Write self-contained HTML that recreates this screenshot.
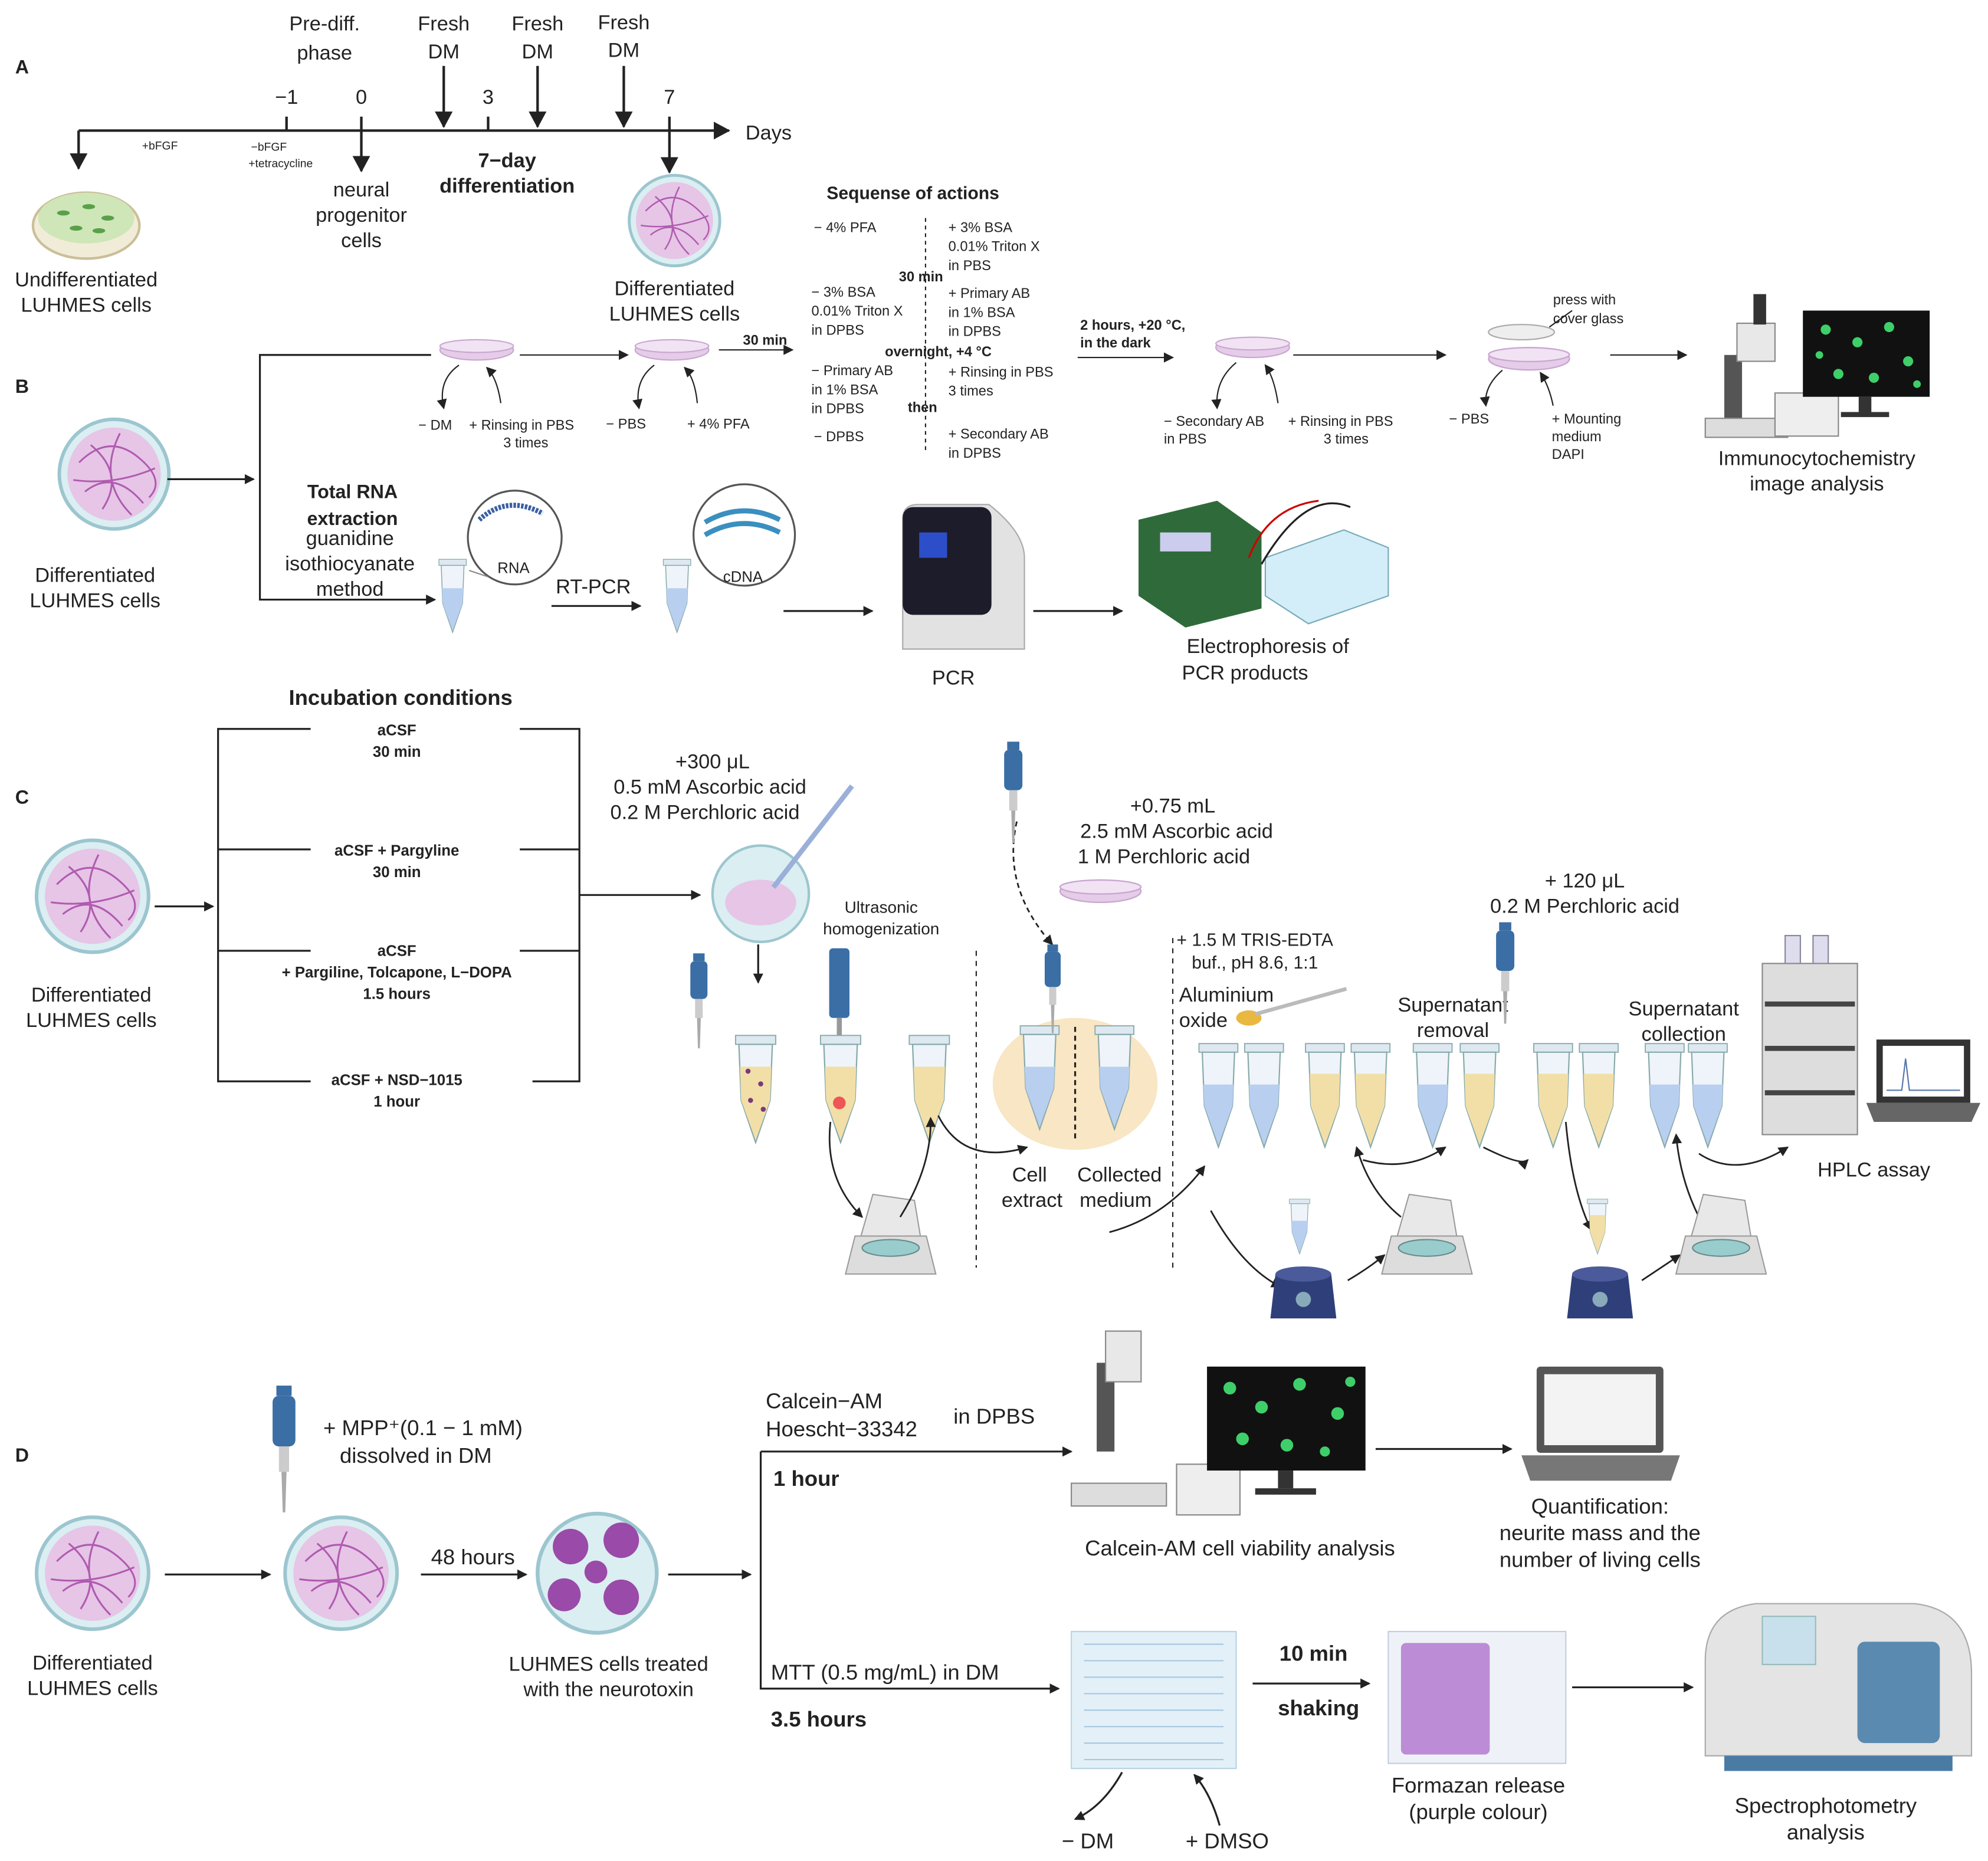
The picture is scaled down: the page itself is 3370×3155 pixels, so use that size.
<!DOCTYPE html>
<html><head><meta charset="utf-8"><style>
html,body{margin:0;padding:0;background:#fff}
svg{display:block}
text{font-family:"Liberation Sans",sans-serif;fill:#222}
.b{font-weight:bold}
</style></head><body>
<svg width="3370" height="3155" viewBox="0 0 1568 1468" preserveAspectRatio="none" xmlns="http://www.w3.org/2000/svg">
<defs>
<marker id="ar" markerWidth="8" markerHeight="8" refX="7" refY="4" orient="auto" markerUnits="userSpaceOnUse"><path d="M0,0 L8,4 L0,8z" fill="#222"/></marker>
<marker id="ab" markerWidth="14" markerHeight="14" refX="12" refY="7" orient="auto" markerUnits="userSpaceOnUse"><path d="M0,0 L13,7 L0,14z" fill="#222"/></marker>
<symbol id="dish" viewBox="-50 -50 100 100">
<circle r="47" fill="#dbeef2" stroke="#9cc6cf" stroke-width="3"/>
<circle r="40" fill="#e6c5e6"/>
<path d="M-30,-10 Q-5,-35 20,-15 T30,20 M-25,15 Q0,-5 25,25 M-20,-25 Q10,0 -10,30 M5,-35 Q-15,5 15,35 M-35,5 Q0,10 35,-5" stroke="#b05ab0" stroke-width="1.5" fill="none"/>
</symbol>
<symbol id="tube" viewBox="0 0 40 100">
<rect x="2" y="2" width="36" height="8" fill="#dde8f0" stroke="#8aa" stroke-width="1"/>
<path d="M5,10 L35,10 L33,60 L20,98 L7,60z" fill="#eef4fa" stroke="#8aa" stroke-width="1.2"/>
<path d="M6,40 L34,40 L33,60 L20,96 L7,60z" fill="#b9cff0"/>
</symbol>
<symbol id="ytube" viewBox="0 0 40 100">
<rect x="2" y="2" width="36" height="8" fill="#dde8f0" stroke="#8aa" stroke-width="1"/>
<path d="M5,10 L35,10 L33,60 L20,98 L7,60z" fill="#eef4fa" stroke="#8aa" stroke-width="1.2"/>
<path d="M6,30 L34,30 L33,60 L20,96 L7,60z" fill="#f2dfa8"/>
</symbol>
<symbol id="cent" viewBox="0 0 80 80">
<path d="M10,40 L70,40 L78,72 L2,72z" fill="#ddd" stroke="#999"/>
<path d="M15,40 L25,5 L60,10 L65,40z" fill="#e8e8e8" stroke="#999"/>
<ellipse cx="40" cy="50" rx="24" ry="7" fill="#9cc" stroke="#688"/>
</symbol>
<symbol id="vort" viewBox="0 0 60 60">
<path d="M8,20 L52,20 L56,55 L4,55z" fill="#2f3f7a"/>
<ellipse cx="30" cy="20" rx="22" ry="6" fill="#4a5a9a"/>
<circle cx="30" cy="40" r="6" fill="#8ab"/>
</symbol>
<symbol id="pip" viewBox="0 0 30 100">
<rect x="8" y="0" width="12" height="8" fill="#3a6ea5"/>
<rect x="5" y="8" width="18" height="40" rx="5" fill="#3a6ea5"/>
<rect x="10" y="48" width="8" height="20" fill="#ccc"/>
<path d="M12,68 L16,68 L15,100 L13,100z" fill="#aaa"/>
</symbol>
<symbol id="sdish" viewBox="0 0 60 20">
<ellipse cx="30" cy="10" rx="29" ry="8" fill="#e5cce8" stroke="#c9a7d0"/>
<ellipse cx="30" cy="7" rx="29" ry="5" fill="#f1e3f3" stroke="#c9a7d0"/>
</symbol>
</defs>

<!-- ===== A ===== -->
<text x="12" y="58" font-size="15" class="b">A</text>
<text x="256" y="24" font-size="16" text-anchor="middle">Pre-diff.</text>
<text x="256" y="47" font-size="16" text-anchor="middle">phase</text>
<g font-size="16" text-anchor="middle">
<text x="350" y="24">Fresh</text><text x="350" y="46">DM</text>
<text x="424" y="24">Fresh</text><text x="424" y="46">DM</text>
<text x="492" y="23">Fresh</text><text x="492" y="45">DM</text>
<text x="226" y="82">−1</text><text x="285" y="82">0</text><text x="385" y="82">3</text><text x="528" y="82">7</text>
</g>
<line x1="62" y1="103" x2="575" y2="103" stroke="#222" stroke-width="2" marker-end="url(#ab)"/>
<text x="588" y="110" font-size="16">Days</text>
<g stroke="#222" stroke-width="2">
<line x1="226" y1="92" x2="226" y2="103"/><line x1="385" y1="92" x2="385" y2="103"/><line x1="528" y1="92" x2="528" y2="103"/>
<line x1="350" y1="52" x2="350" y2="100" marker-end="url(#ab)"/>
<line x1="424" y1="52" x2="424" y2="100" marker-end="url(#ab)"/>
<line x1="492" y1="52" x2="492" y2="100" marker-end="url(#ab)"/>
<line x1="62" y1="103" x2="62" y2="133" marker-end="url(#ab)"/>
<line x1="285" y1="92" x2="285" y2="135" marker-end="url(#ab)"/>
<line x1="528" y1="103" x2="528" y2="136" marker-end="url(#ab)"/>
</g>
<text x="112" y="118" font-size="9">+bFGF</text>
<text x="198" y="119" font-size="9">−bFGF</text>
<text x="196" y="132" font-size="9">+tetracycline</text>
<text x="400" y="132" font-size="16" class="b" text-anchor="middle">7−day</text>
<text x="400" y="152" font-size="16" class="b" text-anchor="middle">differentiation</text>
<g font-size="16" text-anchor="middle">
<text x="285" y="155">neural</text><text x="285" y="175">progenitor</text><text x="285" y="195">cells</text>
</g>
<ellipse cx="68" cy="178" rx="42" ry="26" fill="#f1ecd8" stroke="#cbbf98" stroke-width="2"/>
<ellipse cx="68" cy="172" rx="38" ry="20" fill="#cfe6b8"/>
<g fill="#5aa04a"><ellipse cx="50" cy="168" rx="5" ry="2"/><ellipse cx="70" cy="163" rx="5" ry="2"/><ellipse cx="85" cy="172" rx="5" ry="2"/><ellipse cx="60" cy="180" rx="5" ry="2"/><ellipse cx="78" cy="182" rx="5" ry="2"/></g>
<text x="68" y="226" font-size="16" text-anchor="middle">Undifferentiated</text>
<text x="68" y="246" font-size="16" text-anchor="middle">LUHMES cells</text>
<use href="#dish" x="494" y="136" width="76" height="76"/>
<text x="532" y="233" font-size="16" text-anchor="middle">Differentiated</text>
<text x="532" y="253" font-size="16" text-anchor="middle">LUHMES cells</text>

<!-- ===== B ===== -->
<text x="12" y="310" font-size="15" class="b">B</text>
<use href="#dish" x="44" y="328" width="92" height="92"/>
<text x="75" y="459" font-size="16" text-anchor="middle">Differentiated</text>
<text x="75" y="479" font-size="16" text-anchor="middle">LUHMES cells</text>
<line x1="132" y1="378" x2="200" y2="378" stroke="#222" stroke-width="1.5" marker-end="url(#ar)"/>
<polyline points="340,280 205,280 205,473 343,473" fill="none" stroke="#222" stroke-width="1.5" marker-end="url(#ar)"/>
<use href="#sdish" x="346" y="266" width="60" height="20"/>
<use href="#sdish" x="500" y="266" width="60" height="20"/>
<use href="#sdish" x="958" y="264" width="60" height="20"/>
<use href="#sdish" x="1170" y="272" width="72" height="22"/>
<ellipse cx="1200" cy="262" rx="26" ry="6" fill="#eee" stroke="#aaa"/>
<g stroke="#222" stroke-width="1" fill="none">
<line x1="410" y1="280" x2="495" y2="280" marker-end="url(#ar)"/>
<line x1="567" y1="276" x2="625" y2="276" marker-end="url(#ar)"/>
<line x1="850" y1="282" x2="925" y2="282" marker-end="url(#ar)"/>
<line x1="1020" y1="280" x2="1140" y2="280" marker-end="url(#ar)"/>
<line x1="1270" y1="280" x2="1330" y2="280" marker-end="url(#ar)"/>
<path d="M362,288 Q345,300 350,322" marker-end="url(#ar)"/><path d="M395,318 Q392,298 384,290" marker-end="url(#ar)"/>
<path d="M516,288 Q500,300 504,322" marker-end="url(#ar)"/><path d="M550,318 Q548,298 540,290" marker-end="url(#ar)"/>
<path d="M975,286 Q958,300 960,322" marker-end="url(#ar)"/><path d="M1008,318 Q1005,298 998,288" marker-end="url(#ar)"/>
<path d="M1185,292 Q1170,305 1172,320" marker-end="url(#ar)"/><path d="M1225,320 Q1222,305 1215,294" marker-end="url(#ar)"/>
<path d="M1222,258 L1240,245"/>
</g>
<g font-size="11">
<text x="330" y="339">− DM</text><text x="370" y="339">+ Rinsing in PBS</text><text x="397" y="353">3 times</text>
<text x="478" y="338">− PBS</text><text x="542" y="338">+ 4% PFA</text>
<text x="918" y="336">− Secondary AB</text><text x="918" y="350">in PBS</text><text x="1016" y="336">+ Rinsing in PBS</text><text x="1044" y="350">3 times</text>
<text x="1143" y="334">− PBS</text><text x="1224" y="334">+ Mounting</text><text x="1224" y="348">medium</text><text x="1224" y="362">DAPI</text>
<text x="1225" y="240">press with</text><text x="1225" y="255">cover glass</text>
</g>
<text x="586" y="272" font-size="11" class="b">30 min</text>
<text x="852" y="260" font-size="11" class="b">2 hours, +20 °C,</text>
<text x="852" y="274" font-size="11" class="b">in the dark</text>
<text x="652" y="157" font-size="14" class="b">Sequense of actions</text>
<line x1="730" y1="172" x2="730" y2="355" stroke="#222" stroke-dasharray="3,3"/>
<g font-size="11">
<text x="642" y="183">− 4% PFA</text>
<text x="748" y="183">+ 3% BSA</text><text x="748" y="198">0.01% Triton X</text><text x="748" y="213">in PBS</text>
<text x="640" y="234">− 3% BSA</text><text x="640" y="249">0.01% Triton X</text><text x="640" y="264">in DPBS</text>
<text x="748" y="235">+ Primary AB</text><text x="748" y="250">in 1% BSA</text><text x="748" y="265">in DPBS</text>
<text x="640" y="296">− Primary AB</text><text x="640" y="311">in 1% BSA</text><text x="640" y="326">in DPBS</text>
<text x="748" y="297">+ Rinsing in PBS</text><text x="748" y="312">3 times</text>
<text x="642" y="348">− DPBS</text>
<text x="748" y="346">+ Secondary AB</text><text x="748" y="361">in DPBS</text>
</g>
<text x="709" y="222" font-size="11" class="b">30 min</text>
<text x="698" y="281" font-size="11" class="b">overnight, +4 °C</text>
<text x="716" y="325" font-size="11" class="b">then</text>
<!-- microscope ICC -->
<g>
<rect x="1360" y="280" width="14" height="60" fill="#555"/>
<path d="M1345,330 L1410,330 L1410,345 L1345,345z" fill="#ddd" stroke="#888"/>
<rect x="1370" y="255" width="30" height="30" fill="#e8e8e8" stroke="#888"/>
<rect x="1383" y="232" width="10" height="24" fill="#333"/>
<rect x="1400" y="310" width="50" height="34" fill="#eee" stroke="#888"/>
<rect x="1422" y="245" width="100" height="68" fill="#111"/>
<g fill="#3ecf6a"><circle cx="1440" cy="260" r="4"/><circle cx="1465" cy="270" r="4"/><circle cx="1490" cy="258" r="4"/><circle cx="1505" cy="285" r="4"/><circle cx="1450" cy="295" r="4"/><circle cx="1478" cy="298" r="4"/><circle cx="1435" cy="280" r="3"/><circle cx="1512" cy="303" r="3"/></g>
<rect x="1466" y="313" width="10" height="12" fill="#333"/><rect x="1452" y="325" width="38" height="4" fill="#333"/>
</g>
<text x="1433" y="367" font-size="16" text-anchor="middle">Immunocytochemistry</text>
<text x="1433" y="387" font-size="16" text-anchor="middle">image analysis</text>
<!-- RNA -->
<text x="278" y="393" font-size="15" class="b" text-anchor="middle">Total RNA</text>
<text x="278" y="414" font-size="15" class="b" text-anchor="middle">extraction</text>
<g font-size="16" text-anchor="middle"><text x="276" y="430">guanidine</text><text x="276" y="450">isothiocyanate</text><text x="276" y="470">method</text></g>
<use href="#tube" x="345" y="440" width="24" height="60"/>
<circle cx="406" cy="424" r="37" fill="#fff" stroke="#555" stroke-width="1.5"/>
<path d="M378,410 Q400,390 428,405" stroke="#3a5fa0" stroke-width="4" fill="none" stroke-dasharray="2,1"/>
<text x="405" y="452" font-size="12" text-anchor="middle">RNA</text>
<line x1="370" y1="450" x2="385" y2="455" stroke="#888"/>
<text x="468" y="468" font-size="16" text-anchor="middle">RT-PCR</text>
<line x1="435" y1="478" x2="505" y2="478" stroke="#222" stroke-width="1.5" marker-end="url(#ar)"/>
<use href="#tube" x="522" y="440" width="24" height="60"/>
<circle cx="587" cy="422" r="40" fill="#fff" stroke="#555" stroke-width="1.5"/>
<path d="M556,412 Q585,395 615,410 M556,422 Q585,405 615,420" stroke="#3a8fc0" stroke-width="4" fill="none"/>
<text x="586" y="459" font-size="12" text-anchor="middle">cDNA</text>
<line x1="618" y1="482" x2="688" y2="482" stroke="#222" stroke-width="1.5" marker-end="url(#ar)"/>
<path d="M712,410 Q712,398 724,398 L780,398 Q808,420 808,440 L808,512 L712,512z" fill="#e2e2e2" stroke="#aaa"/>
<rect x="712" y="400" width="70" height="85" rx="8" fill="#1c1c2a"/>
<rect x="725" y="420" width="22" height="20" fill="#2c4ec8"/>
<text x="752" y="540" font-size="16" text-anchor="middle">PCR</text>
<line x1="815" y1="482" x2="885" y2="482" stroke="#222" stroke-width="1.5" marker-end="url(#ar)"/>
<path d="M898,410 L960,395 L995,420 L995,480 L935,495 L898,470z" fill="#2f6b3a"/>
<rect x="915" y="420" width="40" height="15" fill="#cce"/>
<path d="M998,440 L1060,418 L1095,432 L1095,470 L1032,492 L998,470z" fill="#d3eef8" stroke="#7ab"/>
<path d="M985,440 Q1000,400 1040,395" stroke="#c00" fill="none" stroke-width="1.5"/>
<path d="M995,445 Q1030,385 1065,400" stroke="#222" fill="none" stroke-width="1.5"/>
<text x="1000" y="515" font-size="16" text-anchor="middle">Electrophoresis of</text>
<text x="982" y="536" font-size="16" text-anchor="middle">PCR products</text>

<!-- ===== C ===== -->
<text x="12" y="634" font-size="15" class="b">C</text>
<text x="316" y="556" font-size="17" class="b" text-anchor="middle">Incubation conditions</text>
<use href="#dish" x="26" y="660" width="94" height="94"/>
<text x="72" y="790" font-size="16" text-anchor="middle">Differentiated</text>
<text x="72" y="810" font-size="16" text-anchor="middle">LUHMES cells</text>
<line x1="122" y1="715" x2="168" y2="715" stroke="#222" stroke-width="1.5" marker-end="url(#ar)"/>
<g stroke="#222" stroke-width="1.5" fill="none">
<polyline points="245,575 172,575 172,853 245,853"/>
<line x1="172" y1="670" x2="245" y2="670"/><line x1="172" y1="750" x2="245" y2="750"/>
<polyline points="410,575 457,575 457,853 420,853"/>
<line x1="410" y1="670" x2="457" y2="670"/><line x1="410" y1="750" x2="457" y2="750"/>
<line x1="457" y1="706" x2="552" y2="706" marker-end="url(#ar)"/>
</g>
<g font-size="12" class="b" text-anchor="middle">
<text x="313" y="580">aCSF</text><text x="313" y="597">30 min</text>
<text x="313" y="675">aCSF + Pargyline</text><text x="313" y="692">30 min</text>
<text x="313" y="754">aCSF</text><text x="313" y="771">+ Pargiline, Tolcapone, L−DOPA</text><text x="313" y="788">1.5 hours</text>
<text x="313" y="856">aCSF + NSD−1015</text><text x="313" y="873">1 hour</text>
</g>
<g font-size="16" text-anchor="middle"><text x="562" y="606">+300 μL</text><text x="560" y="626">0.5 mM Ascorbic acid</text><text x="556" y="646">0.2 M Perchloric acid</text></g>
<circle cx="600" cy="705" r="38" fill="#dbeef2" stroke="#9cc6cf" stroke-width="2"/>
<ellipse cx="600" cy="712" rx="28" ry="18" fill="#e6c5e6"/>
<line x1="610" y1="700" x2="672" y2="620" stroke="#9bb0d8" stroke-width="4"/>
<line x1="598" y1="745" x2="598" y2="775" stroke="#222" stroke-width="1.5" marker-end="url(#ar)"/>
<use href="#pip" x="540" y="752" width="24" height="75"/>
<use href="#ytube" x="578" y="815" width="36" height="88"/>
<g fill="#7a3a7a"><circle cx="590" cy="845" r="2"/><circle cx="600" cy="855" r="2"/><circle cx="592" cy="868" r="2"/><circle cx="602" cy="875" r="2"/></g>
<text x="695" y="720" font-size="13" text-anchor="middle">Ultrasonic</text>
<text x="695" y="737" font-size="13" text-anchor="middle">homogenization</text>
<rect x="654" y="748" width="16" height="55" rx="3" fill="#3a6ea5"/><rect x="660" y="803" width="4" height="50" fill="#999"/>
<use href="#ytube" x="645" y="815" width="36" height="88"/>
<circle cx="662" cy="870" r="5" fill="#e55"/>
<use href="#ytube" x="715" y="815" width="36" height="88"/>
<use href="#cent" x="665" y="935" width="75" height="80"/>
<g stroke="#222" stroke-width="1.3" fill="none">
<path d="M655,885 Q650,930 680,960" marker-end="url(#ar)"/>
<path d="M710,960 Q735,920 734,882" marker-end="url(#ar)"/>
<path d="M740,880 Q760,920 810,905" marker-end="url(#ar)"/>
<path d="M875,972 Q920,960 950,920" marker-end="url(#ar)"/>
<path d="M955,955 Q980,1000 1010,1015" marker-end="url(#ar)"/>
<path d="M1063,1010 Q1080,1000 1092,990" marker-end="url(#ar)"/>
<path d="M1105,960 Q1080,940 1070,905" marker-end="url(#ar)"/>
<path d="M1075,915 Q1110,925 1140,905" marker-end="url(#ar)"/>
<path d="M1170,905 Q1200,920 1205,915" marker-end="url(#ar)"/>
<path d="M1235,885 Q1240,940 1255,970" marker-end="url(#ar)"/>
<path d="M1295,1010 Q1310,1000 1325,990" marker-end="url(#ar)"/>
<path d="M1340,960 Q1325,930 1322,895" marker-end="url(#ar)"/>
<path d="M1340,910 Q1370,930 1410,905" marker-end="url(#ar)"/>
<path d="M802,648 Q790,700 830,745" stroke-dasharray="4,3" marker-end="url(#ar)"/>
</g>
<line x1="770" y1="750" x2="770" y2="1000" stroke="#222" stroke-dasharray="4,4"/>
<line x1="925" y1="740" x2="925" y2="1000" stroke="#222" stroke-dasharray="4,4"/>
<ellipse cx="848" cy="855" rx="65" ry="52" fill="#f8e6c4"/>
<line x1="848" y1="810" x2="848" y2="900" stroke="#222" stroke-dasharray="4,3" stroke-width="1.5"/>
<use href="#tube" x="803" y="805" width="34" height="90"/>
<use href="#tube" x="862" y="805" width="34" height="90"/>
<use href="#pip" x="788" y="585" width="24" height="80"/>
<use href="#pip" x="820" y="745" width="22" height="70"/>
<use href="#sdish" x="828" y="692" width="80" height="22"/>
<g font-size="16" text-anchor="middle"><text x="925" y="641">+0.75 mL</text><text x="928" y="661">2.5 mM Ascorbic acid</text><text x="918" y="681">1 M Perchloric acid</text>
<text x="812" y="932">Cell</text><text x="814" y="952">extract</text><text x="883" y="932">Collected</text><text x="880" y="952">medium</text></g>
<g font-size="14"><text x="928" y="746">+ 1.5 M TRIS-EDTA</text><text x="940" y="764">buf., pH 8.6, 1:1</text></g>
<g font-size="16"><text x="930" y="790">Aluminium</text><text x="930" y="810">oxide</text></g>
<ellipse cx="985" cy="803" rx="10" ry="6" fill="#e8b840"/><line x1="990" y1="800" x2="1062" y2="780" stroke="#bbb" stroke-width="3"/>
<use href="#tube" x="944" y="820" width="34" height="88"/>
<use href="#tube" x="980" y="820" width="34" height="88"/>
<use href="#ytube" x="1028" y="820" width="34" height="88"/>
<use href="#ytube" x="1064" y="820" width="34" height="88"/>
<use href="#tube" x="1113" y="820" width="34" height="88"/>
<use href="#ytube" x="1150" y="820" width="34" height="88"/>
<use href="#ytube" x="1208" y="820" width="34" height="88"/>
<use href="#ytube" x="1244" y="820" width="34" height="88"/>
<use href="#tube" x="1296" y="820" width="34" height="88"/>
<use href="#tube" x="1330" y="820" width="34" height="88"/>
<g font-size="16" text-anchor="middle"><text x="1146" y="798">Supernatant</text><text x="1146" y="818">removal</text>
<text x="1328" y="801">Supernatant</text><text x="1328" y="821">collection</text>
<text x="1250" y="700">+ 120 μL</text><text x="1250" y="720">0.2 M Perchloric acid</text>
<text x="1478" y="928">HPLC assay</text></g>
<use href="#pip" x="1176" y="725" width="24" height="85"/>
<use href="#vort" x="998" y="985" width="60" height="60"/>
<use href="#cent" x="1088" y="935" width="75" height="80"/>
<use href="#vort" x="1232" y="985" width="60" height="60"/>
<use href="#cent" x="1320" y="935" width="75" height="80"/>
<use href="#tube" x="1015" y="945" width="20" height="45"/>
<use href="#ytube" x="1250" y="945" width="20" height="45"/>
<!-- HPLC -->
<rect x="1390" y="760" width="75" height="135" fill="#ddd" stroke="#888"/>
<g fill="#444"><rect x="1392" y="790" width="71" height="4"/><rect x="1392" y="825" width="71" height="4"/><rect x="1392" y="860" width="71" height="4"/></g>
<rect x="1408" y="738" width="12" height="22" fill="#dde" stroke="#889"/><rect x="1430" y="738" width="12" height="22" fill="#dde" stroke="#889"/>
<rect x="1480" y="820" width="74" height="50" fill="#333"/><rect x="1485" y="825" width="64" height="40" fill="#fff"/>
<path d="M1488,860 L1500,860 L1503,835 L1506,860 L1546,860" stroke="#5577aa" fill="none"/>
<path d="M1472,870 L1562,870 L1555,885 L1478,885z" fill="#666"/>

<!-- ===== D ===== -->
<text x="12" y="1153" font-size="15" class="b">D</text>
<use href="#dish" x="26" y="1194" width="94" height="94"/>
<text x="73" y="1317" font-size="16" text-anchor="middle">Differentiated</text>
<text x="73" y="1337" font-size="16" text-anchor="middle">LUHMES cells</text>
<line x1="130" y1="1242" x2="213" y2="1242" stroke="#222" stroke-width="1.5" marker-end="url(#ar)"/>
<use href="#dish" x="222" y="1194" width="94" height="94"/>
<use href="#pip" x="210" y="1088" width="30" height="110"/>
<g font-size="17"><text x="255" y="1132">+ MPP⁺(0.1 − 1 mM)</text><text x="268" y="1154">dissolved in DM</text></g>
<line x1="332" y1="1242" x2="415" y2="1242" stroke="#222" stroke-width="1.5" marker-end="url(#ar)"/>
<text x="373" y="1234" font-size="17" text-anchor="middle">48 hours</text>
<circle cx="471" cy="1241" r="47" fill="#dbeef2" stroke="#9cc6cf" stroke-width="3"/>
<g fill="#9a4aa8"><circle cx="450" cy="1220" r="14"/><circle cx="490" cy="1215" r="14"/><circle cx="445" cy="1258" r="13"/><circle cx="490" cy="1260" r="14"/><circle cx="470" cy="1240" r="9"/></g>
<text x="480" y="1318" font-size="16" text-anchor="middle">LUHMES cells treated</text>
<text x="480" y="1338" font-size="16" text-anchor="middle">with the neurotoxin</text>
<line x1="527" y1="1242" x2="592" y2="1242" stroke="#222" stroke-width="1.5" marker-end="url(#ar)"/>
<g stroke="#222" stroke-width="1.5" fill="none">
<polyline points="600,1145 600,1332 835,1332" marker-end="url(#ar)"/>
<line x1="600" y1="1145" x2="845" y2="1145" marker-end="url(#ar)"/>
<line x1="1085" y1="1143" x2="1192" y2="1143" marker-end="url(#ar)"/>
<line x1="988" y1="1328" x2="1080" y2="1328" marker-end="url(#ar)"/>
<line x1="1240" y1="1331" x2="1335" y2="1331" marker-end="url(#ar)"/>
<path d="M885,1398 Q870,1425 848,1435" marker-end="url(#ar)"/>
<path d="M962,1440 Q955,1415 942,1400" marker-end="url(#ar)"/>
</g>
<g font-size="17"><text x="604" y="1111">Calcein−AM</text><text x="604" y="1133">Hoescht−33342</text><text x="752" y="1123">in DPBS</text>
<text x="608" y="1325">MTT (0.5 mg/mL) in DM</text></g>
<text x="610" y="1172" font-size="17" class="b">1 hour</text>
<text x="608" y="1362" font-size="17" class="b">3.5 hours</text>
<text x="1036" y="1310" font-size="17" class="b" text-anchor="middle">10 min</text>
<text x="1040" y="1353" font-size="17" class="b" text-anchor="middle">shaking</text>
<!-- microscope D -->
<rect x="865" y="1075" width="14" height="70" fill="#555"/>
<path d="M845,1170 L920,1170 L920,1188 L845,1188z" fill="#ddd" stroke="#888"/>
<rect x="872" y="1050" width="28" height="40" fill="#e8e8e8" stroke="#888"/>
<rect x="928" y="1155" width="50" height="40" fill="#eee" stroke="#888"/>
<rect x="952" y="1078" width="125" height="82" fill="#111"/>
<g fill="#3ecf6a"><circle cx="970" cy="1095" r="5"/><circle cx="995" cy="1110" r="5"/><circle cx="1025" cy="1092" r="5"/><circle cx="1055" cy="1115" r="5"/><circle cx="980" cy="1135" r="5"/><circle cx="1015" cy="1140" r="5"/><circle cx="1045" cy="1145" r="4"/><circle cx="1065" cy="1090" r="4"/></g>
<rect x="1008" y="1160" width="12" height="14" fill="#333"/><rect x="990" y="1174" width="48" height="5" fill="#333"/>
<text x="978" y="1227" font-size="17" text-anchor="middle">Calcein-AM cell viability analysis</text>
<rect x="1212" y="1078" width="100" height="68" rx="3" fill="#555"/><rect x="1218" y="1084" width="88" height="56" fill="#f3f3f3"/>
<path d="M1200,1148 L1325,1148 L1318,1168 L1207,1168z" fill="#777"/>
<g font-size="17" text-anchor="middle"><text x="1262" y="1194">Quantification:</text><text x="1262" y="1215">neurite mass and the</text><text x="1262" y="1236">number of living cells</text></g>
<rect x="845" y="1287" width="130" height="108" fill="#e3f0f8" stroke="#b8d4e4"/>
<g fill="none" stroke="#a8c8e0" stroke-width="1"><path d="M855,1297 h110 M855,1310 h110 M855,1323 h110 M855,1336 h110 M855,1349 h110 M855,1362 h110 M855,1375 h110 M855,1388 h110"/></g>
<rect x="1095" y="1287" width="140" height="104" fill="#eef2f8" stroke="#c4cce0"/>
<g fill="#b47ad0"><rect x="1105" y="1296" width="70" height="88" rx="4" opacity="0.85"/></g>
<g font-size="17" text-anchor="middle"><text x="1166" y="1414">Formazan release</text><text x="1166" y="1435">(purple colour)</text>
<text x="858" y="1458">− DM</text><text x="968" y="1458">+ DMSO</text>
<text x="1440" y="1430">Spectrophotometry</text><text x="1440" y="1451">analysis</text></g>
<path d="M1345,1310 Q1345,1270 1385,1265 L1510,1265 Q1555,1270 1555,1320 L1555,1385 L1345,1385z" fill="#e4e4e4" stroke="#aaa"/>
<rect x="1390" y="1275" width="42" height="38" fill="#c8e0ec" stroke="#9bb"/>
<rect x="1465" y="1295" width="65" height="80" rx="6" fill="#5b8ab0"/>
<rect x="1360" y="1385" width="180" height="12" fill="#4a7ba5"/>
</svg>
</body></html>
